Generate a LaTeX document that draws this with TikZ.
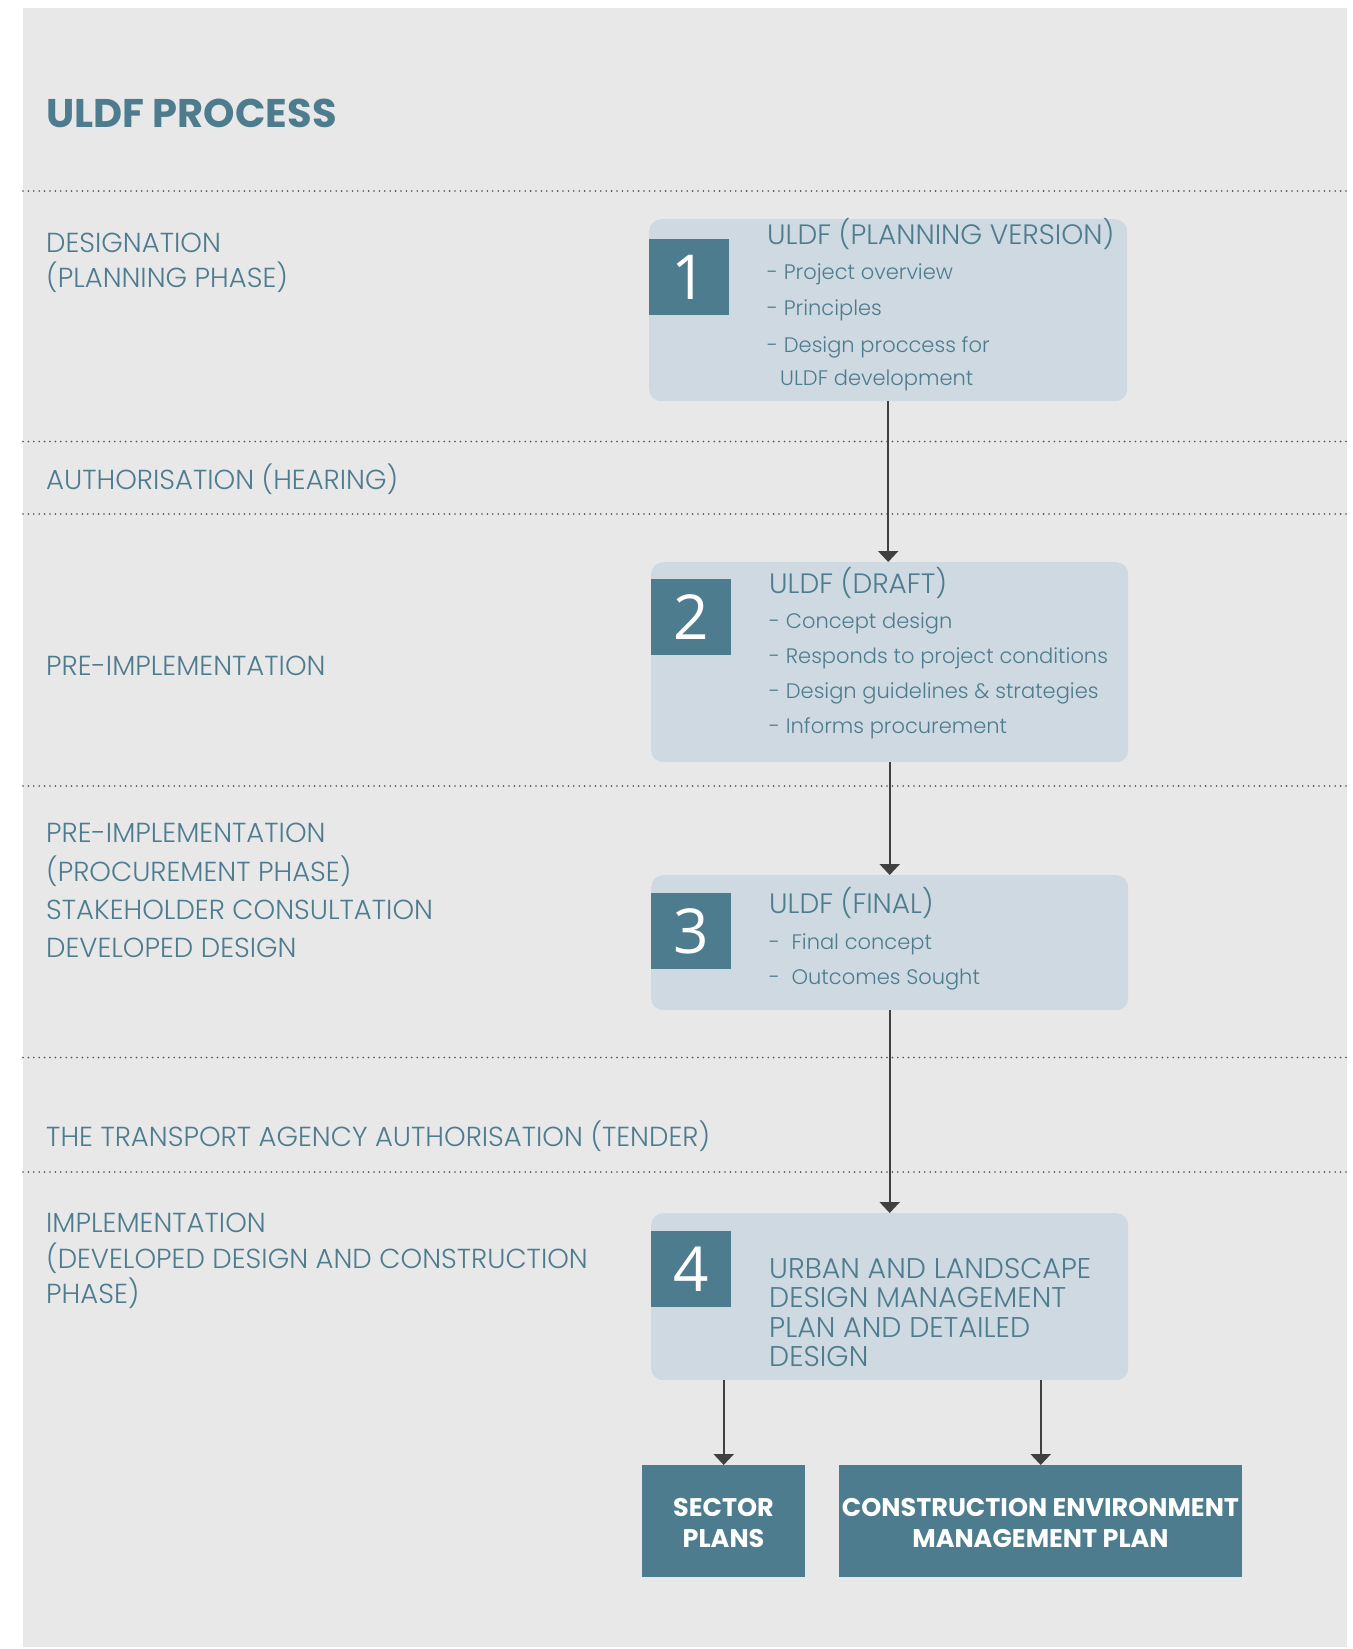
\documentclass[tikz,border=0pt]{standalone}
\usepackage{fontspec}
\setmainfont{Poppins}[UprightFont=* Light, BoldFont=* Bold]
\newfontfamily\digitfont{Open Sans}
\usetikzlibrary{arrows.meta}
\definecolor{bggray}{HTML}{E8E8E8}
\definecolor{boxfill}{HTML}{CFD9E1}
\definecolor{uldfteal}{HTML}{4D7C8E}
\definecolor{arrowgray}{HTML}{404040}
\definecolor{dotgray}{HTML}{505050}
\begin{document}
\begin{tikzpicture}[x=1pt,y=-1pt,
  phase/.style={anchor=base west, inner sep=0pt, text=uldfteal, font=\fontsize{27.5}{30}\selectfont},
  boxtitle/.style={anchor=base west, inner sep=0pt, text=uldfteal, font=\fontsize{28}{30}\selectfont},
  bigtext/.style={anchor=base west, inner sep=0pt, text=uldfteal, font=\fontsize{28.5}{30}\selectfont},
  item/.style={anchor=base west, inner sep=0pt, text=uldfteal, font=\fontsize{21}{26}\selectfont},
  stagebox/.style={draw=none, fill=boxfill, rounded corners=12pt, anchor=north west, inner sep=0pt},
  numsq/.style={fill=uldfteal, anchor=north west, inner sep=0pt, minimum width=80pt, minimum height=76pt, text=white, font=\digitfont\fontsize{62}{62}\selectfont},
  outbox/.style={fill=uldfteal, anchor=north west, inner sep=0pt, minimum height=112pt},
  outtext/.style={anchor=base, inner sep=0pt, text=white, font=\bfseries\fontsize{25.5}{28}\selectfont},
  sep/.style={draw=dotgray, line width=1.8pt, line cap=round, dash pattern=on 0pt off 5.4pt},
  flow/.style={draw=arrowgray, line width=2.4pt, -{Triangle[width=20pt,length=11pt]}},
]
\useasboundingbox (0,0) rectangle (1352,1649);
\fill[bggray] (23,8) rectangle (1347,1647);

% separators
\draw[sep] (23,191) -- (1350,191);
\draw[sep] (23,441.5) -- (1350,441.5);
\draw[sep] (23,514) -- (1350,514);
\draw[sep] (23,786) -- (1350,786);
\draw[sep] (23,1057.5) -- (1350,1057.5);
\draw[sep] (23,1172) -- (1350,1172);

% title
\node[anchor=base west, inner sep=0pt, text=uldfteal, font=\bfseries\fontsize{40}{42}\selectfont] (title) at (46,127) {ULDF PROCESS};

% phase labels
\node[phase] (p1a) at (46,252) {DESIGNATION};
\node[phase] (p1b) at (46,287) {(PLANNING PHASE)};
\node[phase] (p2) at (46,489) {AUTHORISATION (HEARING)};
\node[phase] (p3) at (46,675) {PRE-IMPLEMENTATION};
\node[phase] (p4a) at (46,842) {PRE-IMPLEMENTATION};
\node[phase] (p4b) at (46,881) {(PROCUREMENT PHASE)};
\node[phase] (p4c) at (46,919) {STAKEHOLDER CONSULTATION};
\node[phase] (p4d) at (46,957) {DEVELOPED DESIGN};
\node[phase] (p5) at (46,1146) {THE TRANSPORT AGENCY AUTHORISATION (TENDER)};
\node[phase] (p6a) at (46,1232) {IMPLEMENTATION};
\node[phase] (p6b) at (46,1268) {(DEVELOPED DESIGN AND CONSTRUCTION};
\node[phase] (p6c) at (46,1303) {PHASE)};

% stage boxes
\node[stagebox, minimum width=478pt, minimum height=182pt] (b1) at (649,219) {};
\node[numsq] (n1) at (649,239) {1};
\node[stagebox, minimum width=477pt, minimum height=200pt] (b2) at (651,562) {};
\node[numsq] (n2) at (651,579) {2};
\node[stagebox, minimum width=477pt, minimum height=135pt] (b3) at (651,875) {};
\node[numsq] (n3) at (651,893) {3};
\node[stagebox, minimum width=477pt, minimum height=167pt] (b4) at (651,1213) {};
\node[numsq] (n4) at (651,1231) {4};

% box texts
\node[boxtitle] (t1) at (767,244) {ULDF (PLANNING VERSION)};
\node[item] (t1a) at (767,279) {- Project overview};
\node[item] (t1b) at (767,315) {- Principles};
\node[item] (t1c) at (767,352) {- Design proccess for};
\node[item] (t1d) at (780,385) {ULDF development};

\node[boxtitle] (t2) at (769,593) {ULDF (DRAFT)};
\node[item] (t2a) at (769,628) {- Concept design};
\node[item] (t2b) at (769,663) {- Responds to project conditions};
\node[item] (t2c) at (769,698) {- Design guidelines \& strategies};
\node[item] (t2d) at (769,733) {- Informs procurement};

\node[boxtitle] (t3) at (769,913) {ULDF (FINAL)};
\node[item] (t3a) at (769,949) {-\ \ Final concept};
\node[item] (t3b) at (769,984) {-\ \ Outcomes Sought};

\node[bigtext] (t4a) at (769,1278) {URBAN AND LANDSCAPE};
\node[bigtext] (t4b) at (769,1307) {DESIGN MANAGEMENT};
\node[bigtext] (t4c) at (769,1337) {PLAN AND DETAILED};
\node[bigtext] (t4d) at (769,1366) {DESIGN};

% output boxes
\node[outbox, minimum width=163pt] (sp) at (642,1465) {};
\node[outbox, minimum width=403pt] (ce) at (839,1465) {};
\node[outtext] (sp1) at (723.5,1516) {SECTOR};
\node[outtext] (sp2) at (723.5,1547) {PLANS};
\node[outtext] (ce1) at (1040.5,1516) {CONSTRUCTION ENVIRONMENT};
\node[outtext] (ce2) at (1040.5,1547) {MANAGEMENT PLAN};

% connectors
\draw[flow] (b1.south) -- (b1.south |- b2.north);
\draw[flow] (b2.south) -- (b3.north);
\draw[flow] (b3.south) -- (b4.north);
\draw[flow] (sp.north |- b4.south) -- (sp.north);
\draw[flow] (ce.north |- b4.south) -- (ce.north);
\end{tikzpicture}
\end{document}
